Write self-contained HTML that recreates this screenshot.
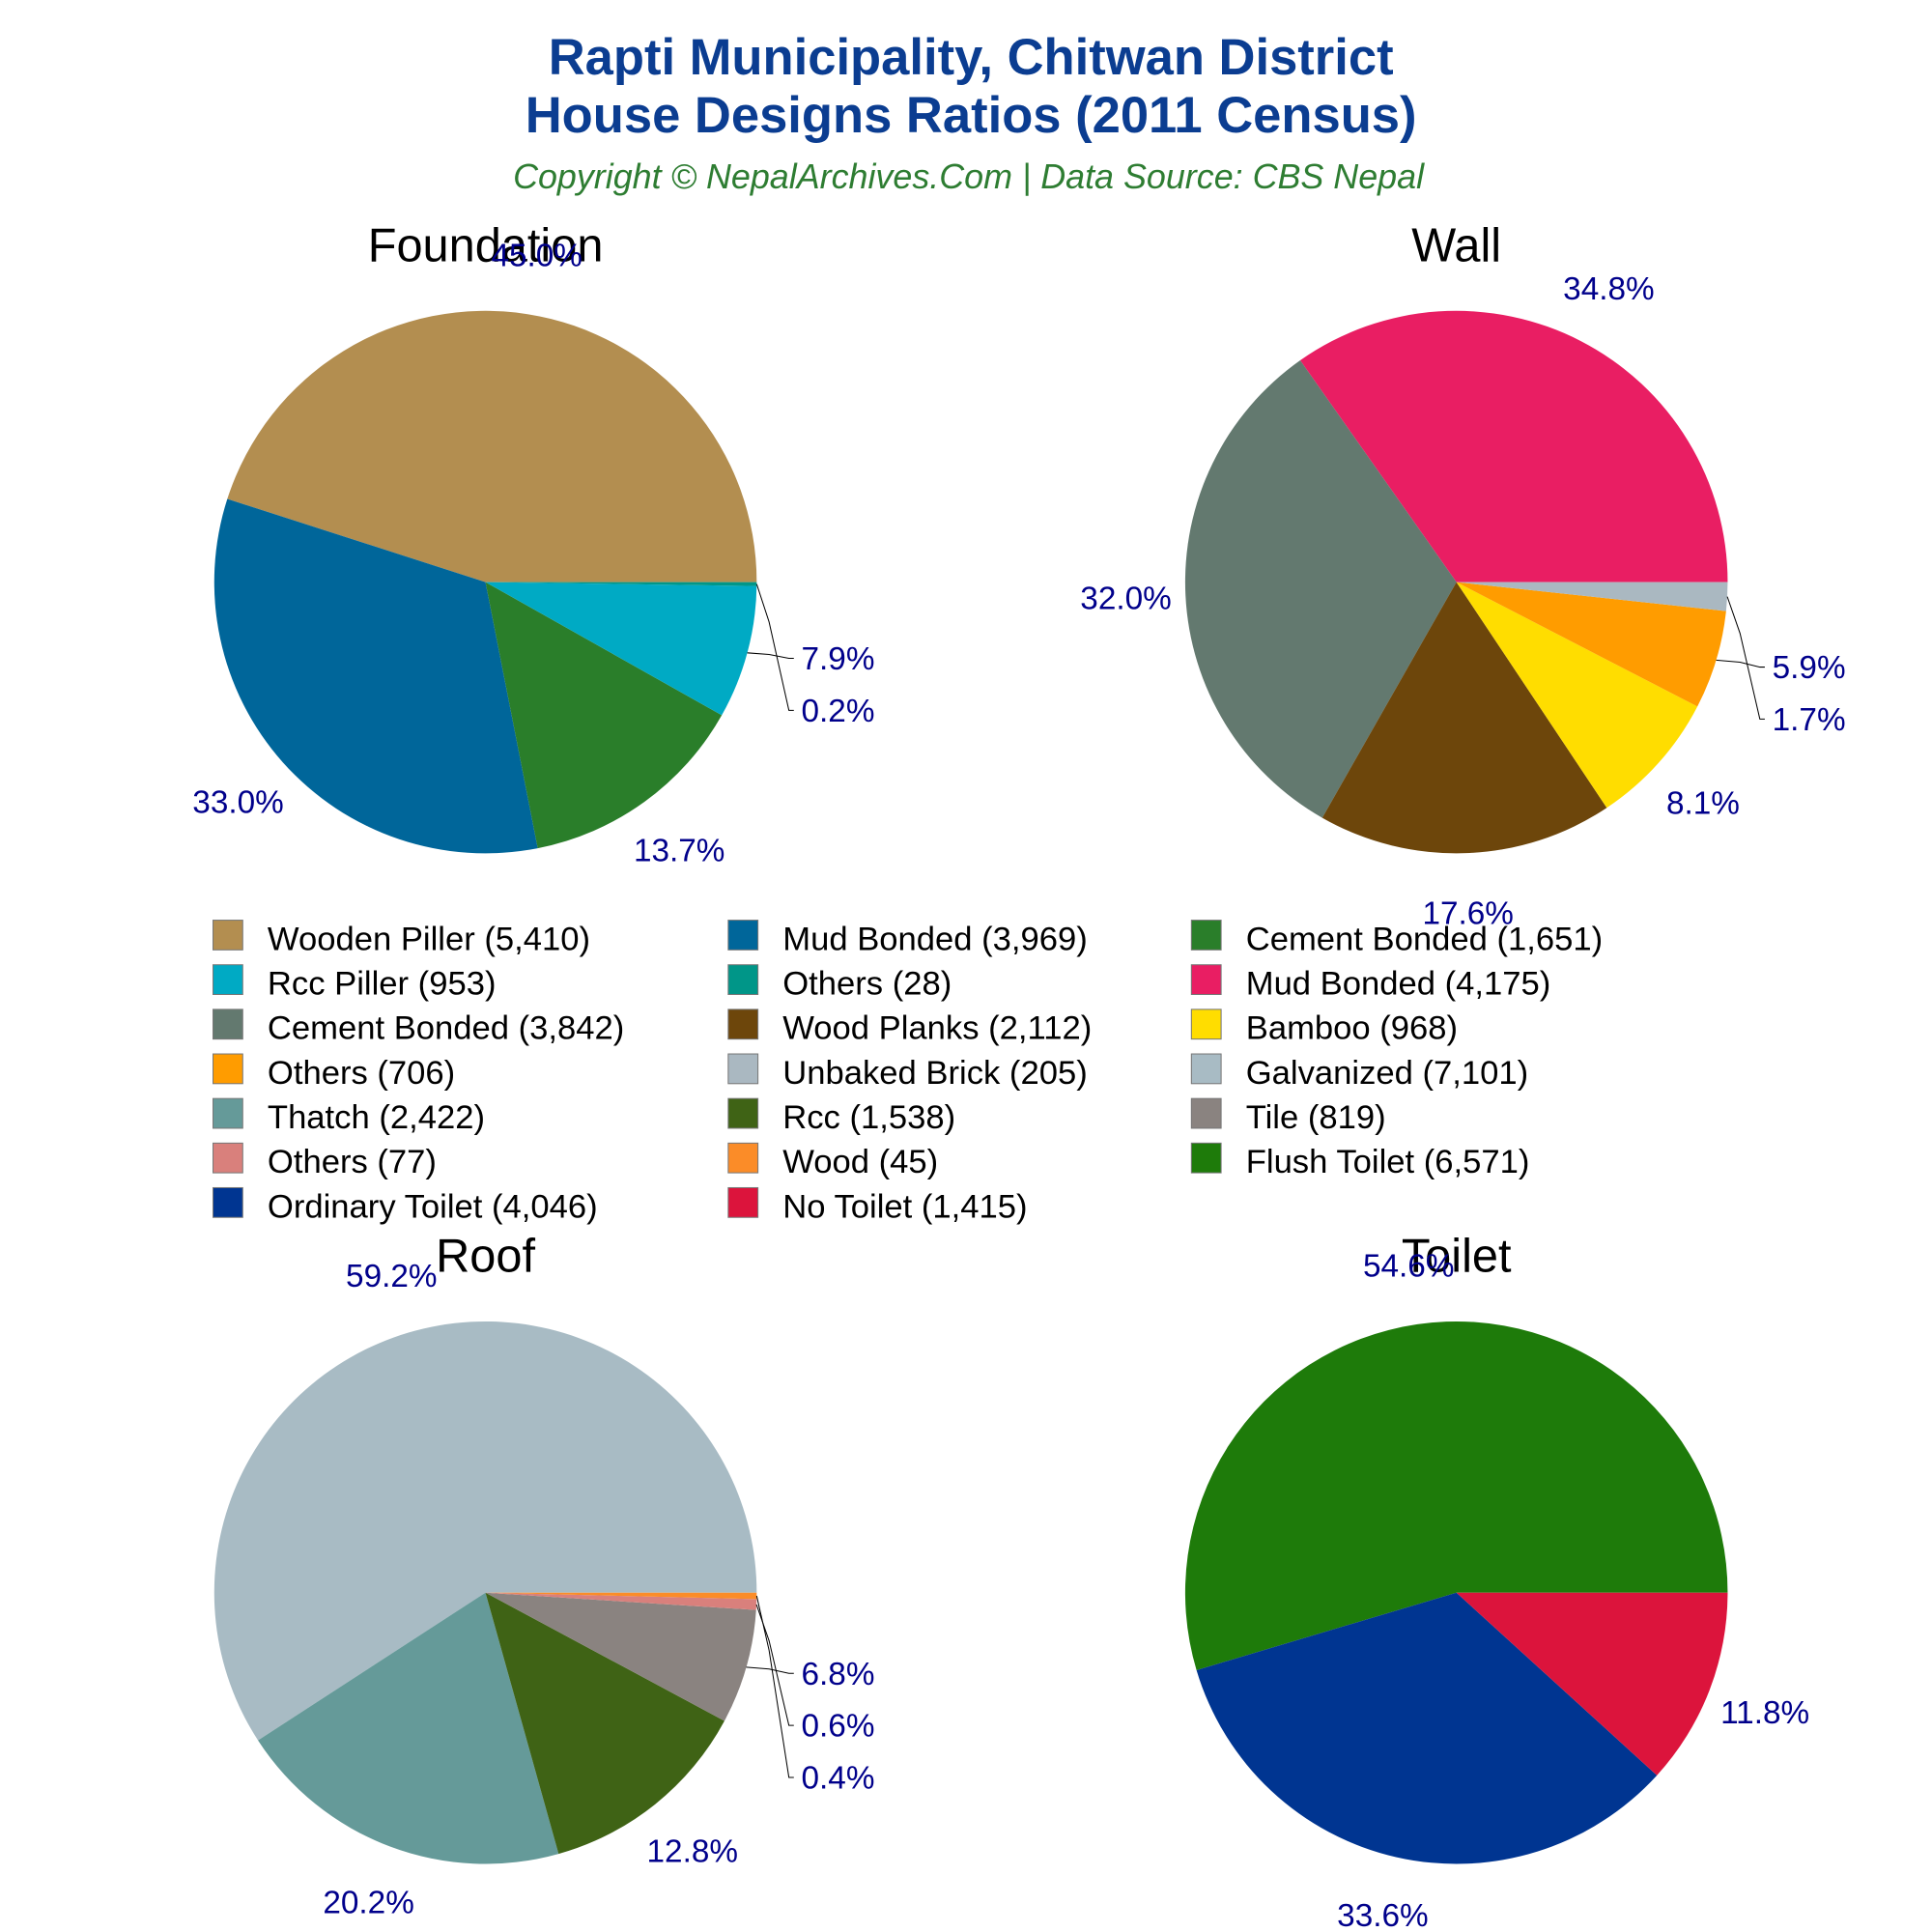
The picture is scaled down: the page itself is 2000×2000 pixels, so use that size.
<!DOCTYPE html>
<html><head><meta charset="utf-8"><style>
html,body{margin:0;padding:0;background:#fff}
svg{display:block;font-family:"Liberation Sans",Arial,sans-serif}
</style></head><body>
<svg id="chart" width="2000" height="2000" viewBox="0 0 1560 1560" xmlns="http://www.w3.org/2000/svg">
<text x="784" y="60" text-anchor="middle" font-size="41" font-weight="bold" fill="#0b3d91">Rapti Municipality, Chitwan District</text>
<text x="784" y="107" text-anchor="middle" font-size="41" font-weight="bold" fill="#0b3d91">House Designs Ratios (2011 Census)</text>
<text x="782" y="152" text-anchor="middle" font-size="28" font-style="italic" fill="#2e7d32">Copyright © NepalArchives.Com | Data Source: CBS Nepal</text>
<g id="pies"></g>
<g id="legend"></g>
</svg>
<script>
const foundationLabels=["Wooden Piller","Mud Bonded","Cement Bonded","Rcc Piller","Others"];
const foundationValues=[5410,3969,1651,953,28];
const foundationColors=["#b38e50","#00669a","#2a7e2a","#00aac4","#009688"];
const wallLabels=["Mud Bonded","Cement Bonded","Wood Planks","Bamboo","Others","Unbaked Brick"];
const wallValues=[4175,3842,2112,968,706,205];
const wallColors=["#e91e63","#63796f","#6d460b","#ffdd00","#ff9c00","#aab8c1"];
const roofLabels=["Galvanized","Thatch","Rcc","Tile","Others","Wood"];
const roofValues=[7101,2422,1538,819,77,45];
const roofColors=["#a8bbc4","#659a99","#3f6315","#8a8380","#d9807c","#fb8c28"];
const toiletLabels=["Flush Toilet","Ordinary Toilet","No Toilet"];
const toiletValues=[6571,4046,1415];
const toiletColors=["#1e7b0a","#003591","#dc143c"];

const NS="http://www.w3.org/2000/svg";
function mk(tag,attrs,parent){const e=document.createElementNS(NS,tag);for(const k in attrs)e.setAttribute(k,attrs[k]);parent.appendChild(e);return e;}
const pies=document.getElementById('pies');
const R=219;
function drawPie(title,labels,values,colors,cx,cy,key){
  const g=mk('g',{},pies);
  
  
  const t=mk('text',{x:cx,y:cy-259,'text-anchor':'middle','font-size':38,fill:'#000'},g);
  
  
  t.textContent=title;
  const total=values.reduce((a,b)=>a+b,0);
  let a0=0;let lastLeaderY=-1e9;
  values.forEach((v,i)=>{
    const frac=v/total;const a1=a0+frac*2*Math.PI;
    const x0=cx+R*Math.cos(a0),y0=cy-R*Math.sin(a0);
    const x1=cx+R*Math.cos(a1),y1=cy-R*Math.sin(a1);
    const large=frac>0.5?1:0;
    const p=mk('path',{d:`M${cx},${cy} L${x0},${y0} A${R},${R} 0 ${large} 0 ${x1},${y1} Z`,fill:colors[i]},g);
    
    
    const mid=(a0+a1)/2;const pct=(frac*100).toFixed(1)+'%';
    const lab=mk('text',{'font-size':26,fill:'#00008b'},g);
    
    
    lab.textContent=pct;
    if(frac<0.08&&Math.cos(mid)>0){
      let ly=cy-1.2*R*Math.sin(mid)+2;
      if(ly<lastLeaderY+42)ly=lastLeaderY+42;
      lastLeaderY=ly;
      const ex=cx+R*Math.cos(mid),ey=cy-R*Math.sin(mid);
      const ln=mk('polyline',{points:`${ex},${ey} ${cx+R+10},${ey+(ly-9-ey)*0.3} ${cx+R+26},${ly-9} ${cx+R+30},${ly-9}`,fill:'none',stroke:'#000','stroke-width':0.8},g);
      
      
      lab.setAttribute('x',cx+R+36);lab.setAttribute('y',ly);
    }else{
      const lr=R*1.22;
      lab.setAttribute('x',cx+lr*Math.cos(mid));lab.setAttribute('y',cy-lr*Math.sin(mid)+9);
      lab.setAttribute('text-anchor','middle');
    }
    a0=a1;
  });
}
drawPie('Foundation',foundationLabels,foundationValues,foundationColors,392,470,'foundation');
drawPie('Wall',wallLabels,wallValues,wallColors,1176,470,'wall');
drawPie('Roof',roofLabels,roofValues,roofColors,392,1286,'roof');
drawPie('Toilet',toiletLabels,toiletValues,toiletColors,1176,1286,'toilet');

const legend=document.getElementById('legend');
const allLabels=[].concat(foundationLabels,wallLabels,roofLabels,toiletLabels);
const allValues=[].concat(foundationValues,wallValues,roofValues,toiletValues);
const allColors=[].concat(foundationColors,wallColors,roofColors,toiletColors);
const colX=[172,588,962];
allLabels.forEach((l,i)=>{
  const c=i%3,r=Math.floor(i/3);
  const x=colX[c],y=758+r*36;
  const g=mk('g',{},legend);
  
  
  mk('rect',{x:x,y:y-15,width:24,height:24,fill:allColors[i],stroke:'#777','stroke-width':0.8},g);
  const t=mk('text',{x:x+44,y:y+9,'font-size':27,fill:'#000'},g);
  t.textContent=l+' ('+allValues[i].toLocaleString('en-US')+')';
});
</script>
</body></html>
